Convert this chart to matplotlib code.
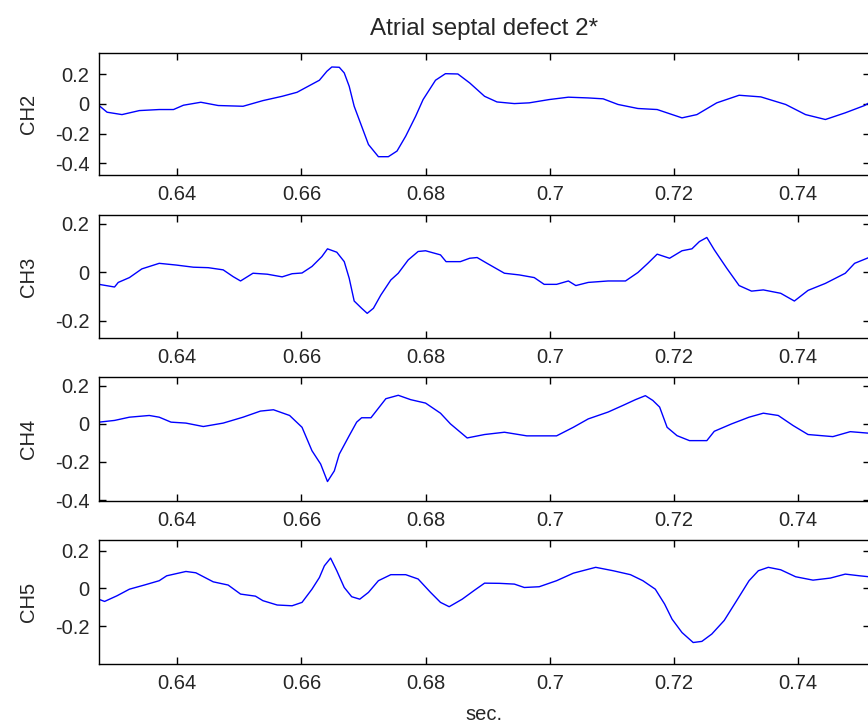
import matplotlib
matplotlib.use('Agg')
import matplotlib.pyplot as plt
import numpy as np

# ---- data (time in sec., signal per channel) ----
t_ch2 = [0.6274, 0.6287, 0.6311, 0.6339, 0.6371, 0.6394, 0.6410, 0.6438, 0.6466, 0.6506,
         0.6538, 0.6569, 0.6593, 0.6609, 0.6629, 0.6641, 0.6649, 0.6661, 0.6669, 0.6677,
         0.6685, 0.6697, 0.6708, 0.6724, 0.6740, 0.6754, 0.6768, 0.6784, 0.6796, 0.6816,
         0.6832, 0.6852, 0.6871, 0.6895, 0.6915, 0.6943, 0.6967, 0.6999, 0.7030, 0.7062,
         0.7086, 0.7110, 0.7142, 0.7173, 0.7213, 0.7237, 0.7269, 0.7305, 0.7340, 0.7380,
         0.7412, 0.7444, 0.7476, 0.7507, 0.7514]
ch2 = [-0.011, -0.056, -0.072, -0.045, -0.038, -0.038, -0.009, 0.011, -0.011, -0.016,
       0.022, 0.051, 0.078, 0.114, 0.159, 0.219, 0.248, 0.246, 0.208, 0.118,
       -0.016, -0.150, -0.273, -0.355, -0.355, -0.317, -0.217, -0.083, 0.029, 0.159,
       0.203, 0.201, 0.141, 0.051, 0.013, 0.002, 0.007, 0.029, 0.045, 0.040,
       0.034, -0.004, -0.031, -0.038, -0.094, -0.072, 0.007, 0.058, 0.047, -0.004,
       -0.072, -0.105, -0.060, -0.011, 0.007]

t_ch3 = [0.6274, 0.6299, 0.6305, 0.6323, 0.6343, 0.6371, 0.6398, 0.6426, 0.6450, 0.6474,
         0.6490, 0.6502, 0.6522, 0.6545, 0.6569, 0.6585, 0.6601, 0.6617, 0.6633, 0.6642,
         0.6657, 0.6669, 0.6677, 0.6685, 0.6697, 0.6706, 0.6716, 0.6728, 0.6744, 0.6756,
         0.6772, 0.6788, 0.6800, 0.6824, 0.6833, 0.6856, 0.6871, 0.6883, 0.6899, 0.6927,
         0.6951, 0.6975, 0.6991, 0.7011, 0.7030, 0.7042, 0.7062, 0.7094, 0.7122, 0.7142,
         0.7158, 0.7173, 0.7193, 0.7213, 0.7229, 0.7241, 0.7253, 0.7265, 0.7285, 0.7305,
         0.7325, 0.7344, 0.7372, 0.7394, 0.7416, 0.7444, 0.7476, 0.7491, 0.7514]
ch3 = [-0.050, -0.061, -0.042, -0.022, 0.014, 0.037, 0.030, 0.021, 0.019, 0.010,
       -0.018, -0.036, -0.004, -0.008, -0.019, -0.006, -0.003, 0.024, 0.065, 0.097,
       0.083, 0.044, -0.025, -0.119, -0.149, -0.170, -0.149, -0.094, -0.032, -0.004,
       0.051, 0.086, 0.089, 0.072, 0.044, 0.044, 0.058, 0.061, 0.037, -0.004,
       -0.011, -0.022, -0.050, -0.050, -0.036, -0.055, -0.042, -0.036, -0.036, -0.001,
       0.037, 0.075, 0.058, 0.089, 0.097, 0.127, 0.144, 0.093, 0.017, -0.055,
       -0.078, -0.073, -0.087, -0.119, -0.075, -0.046, -0.004, 0.037, 0.061]

t_ch4 = [0.6274, 0.6299, 0.6323, 0.6355, 0.6371, 0.6390, 0.6414, 0.6442, 0.6474, 0.6506,
         0.6534, 0.6555, 0.6581, 0.6601, 0.6617, 0.6631, 0.6642, 0.6653, 0.6661, 0.6677,
         0.6689, 0.6697, 0.6712, 0.6736, 0.6756, 0.6776, 0.6800, 0.6824, 0.6840, 0.6867,
         0.6895, 0.6927, 0.6963, 0.7011, 0.7038, 0.7062, 0.7094, 0.7118, 0.7138, 0.7154,
         0.7166, 0.7177, 0.7189, 0.7205, 0.7225, 0.7253, 0.7265, 0.7293, 0.7321, 0.7344,
         0.7368, 0.7392, 0.7416, 0.7456, 0.7484, 0.7514]
ch4 = [0.009, 0.018, 0.035, 0.044, 0.035, 0.009, 0.004, -0.014, 0.004, 0.035,
       0.067, 0.074, 0.044, -0.018, -0.141, -0.211, -0.303, -0.247, -0.159, -0.062,
       0.009, 0.032, 0.032, 0.132, 0.150, 0.127, 0.109, 0.056, 0.000, -0.074,
       -0.056, -0.044, -0.063, -0.063, -0.018, 0.026, 0.062, 0.097, 0.127, 0.148,
       0.123, 0.088, -0.018, -0.062, -0.088, -0.088, -0.039, 0.000, 0.035, 0.056,
       0.044, -0.009, -0.056, -0.067, -0.041, -0.049]

t_ch5 = [0.6274, 0.6283, 0.6303, 0.6323, 0.6347, 0.6371, 0.6383, 0.6414, 0.6430, 0.6458,
         0.6482, 0.6502, 0.6526, 0.6538, 0.6561, 0.6585, 0.6601, 0.6617, 0.6629, 0.6637,
         0.6647, 0.6657, 0.6669, 0.6681, 0.6694, 0.6708, 0.6724, 0.6744, 0.6768, 0.6788,
         0.6808, 0.6824, 0.6838, 0.6859, 0.6879, 0.6895, 0.6919, 0.6943, 0.6959, 0.6983,
         0.7011, 0.7038, 0.7074, 0.7102, 0.7130, 0.7150, 0.7170, 0.7185, 0.7197, 0.7213,
         0.7231, 0.7245, 0.7261, 0.7281, 0.7301, 0.7321, 0.7336, 0.7352, 0.7372, 0.7396,
         0.7424, 0.7452, 0.7476, 0.7499, 0.7514]
ch5 = [-0.058, -0.069, -0.039, -0.004, 0.018, 0.041, 0.067, 0.090, 0.083, 0.035,
       0.018, -0.030, -0.041, -0.065, -0.088, -0.092, -0.074, -0.004, 0.058, 0.120,
       0.161, 0.094, 0.005, -0.044, -0.057, -0.021, 0.041, 0.073, 0.073, 0.050,
       -0.021, -0.074, -0.097, -0.057, -0.009, 0.028, 0.027, 0.023, 0.005, 0.009,
       0.041, 0.081, 0.112, 0.094, 0.073, 0.041, -0.004, -0.083, -0.163, -0.234,
       -0.287, -0.281, -0.242, -0.170, -0.065, 0.041, 0.094, 0.112, 0.099, 0.062,
       0.044, 0.055, 0.076, 0.067, 0.062]

channels = ['CH2', 'CH3', 'CH4', 'CH5']
times = [t_ch2, t_ch3, t_ch4, t_ch5]
signals = [ch2, ch3, ch4, ch5]
yticks = [[0.2, 0, -0.2, -0.4], [0.2, 0, -0.2], [0.2, 0, -0.2, -0.4], [0.2, 0, -0.2]]
ylims = [(-0.478, 0.342), (-0.272, 0.237), (-0.405, 0.246), (-0.401, 0.257)]
xticks = [0.64, 0.66, 0.68, 0.7, 0.72, 0.74]
xlim = (0.6274, 0.7515)

plt.rcParams['font.family'] = ['Liberation Sans', 'DejaVu Sans']
plt.rcParams['font.size'] = 14.5
plt.rcParams['axes.unicode_minus'] = False
txt = '#262626'

fig = plt.figure(figsize=(8.68, 7.26), dpi=100)
# axes boxes in pixels (top, bottom), figure is 726 px tall
boxes = [(53, 175), (215, 338), (377, 501), (540, 664)]
left_px = 99

for i in range(4):
    top, bot = boxes[i]
    ax = fig.add_axes([left_px / 868, (726 - bot) / 726, (869.5 - left_px) / 868, (bot - top) / 726])
    ax.plot(times[i], signals[i], color='#0000ff', linewidth=1.0)
    ax.set_xlim(xlim)
    ax.set_ylim(ylims[i])
    ax.set_xticks(xticks)
    ax.set_xticklabels(['%g' % v for v in xticks])
    ax.set_yticks(yticks[i])
    ax.set_yticklabels(['%g' % v for v in yticks[i]])
    ax.tick_params(direction='in', length=5, width=1, top=True, right=True, pad=7,
                   labelcolor=txt)
    for s in ax.spines.values():
        s.set_linewidth(1.0)
    ax.set_ylabel(channels[i], labelpad=12, color=txt)
    if i == 0:
        ax.set_title('Atrial septal defect 2*', pad=13, color=txt)
    if i == 3:
        ax.set_xlabel('sec.', labelpad=9, color=txt)

fig.savefig('out.png', dpi=100)
